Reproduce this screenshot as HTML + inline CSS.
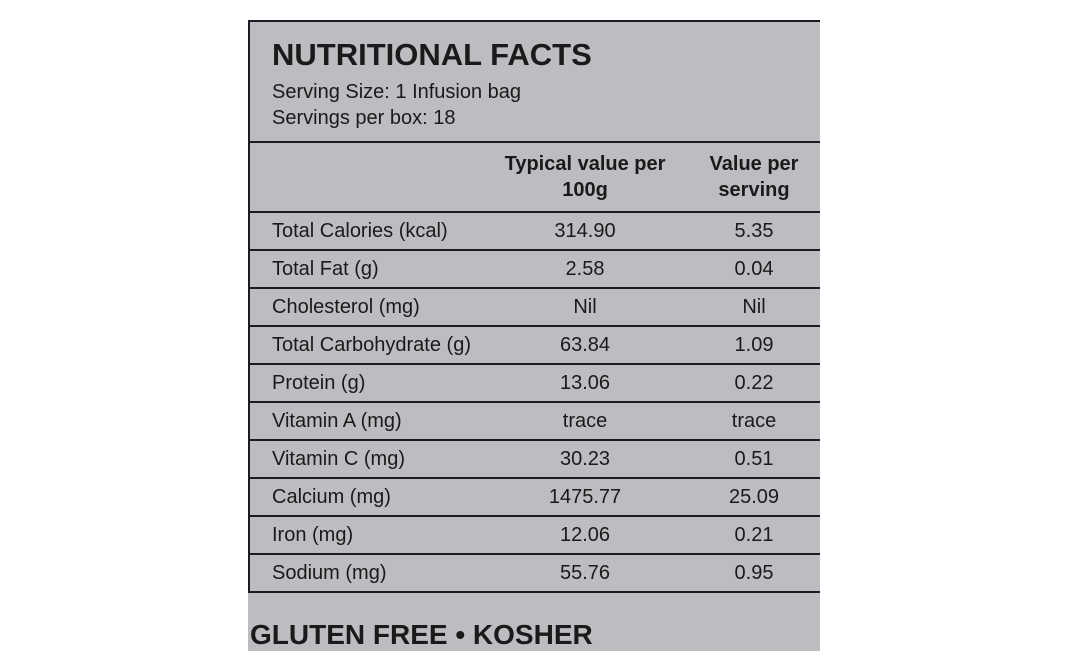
<!DOCTYPE html>
<html><head><style>
body{margin:0;width:1068px;height:671px;background:#fff;position:relative;overflow:hidden;font-family:"Liberation Sans",sans-serif;color:#1a1a1a}
#p{position:absolute;left:248px;top:20px;width:572px;height:631px;background:#bdbdc1}
.l{position:absolute;left:248px;width:572px;height:2px;background:#1b1b22}
.t{position:absolute;font-size:20px;line-height:24px;white-space:nowrap}
.c1{position:absolute;left:520px;width:130px;text-align:center;font-size:20px}
.c2{position:absolute;left:689px;width:130px;text-align:center;font-size:20px}
</style></head><body>
<div id="p"></div>
<div class="l" style="top:20px"></div>
<div style="position:absolute;left:248px;top:20px;width:2px;height:573px;background:#1b1b22"></div>
<div class="t" style="left:272px;top:38px;font-size:31px;font-weight:bold;line-height:34px;letter-spacing:0px">NUTRITIONAL FACTS</div>
<div class="t" style="left:272px;top:80px">Serving Size: 1 Infusion bag</div>
<div class="t" style="left:272px;top:106px">Servings per box: 18</div>
<div class="l" style="top:141px"></div>
<div class="t" style="left:490px;top:151px;width:190px;text-align:center;font-weight:bold;line-height:26px;white-space:normal">Typical value per 100g</div>
<div class="t" style="left:684px;top:151px;width:140px;text-align:center;font-weight:bold;line-height:26px;white-space:normal">Value per serving</div>
<div class="l" style="top:211px"></div>
<div id="rows"></div>
<script>
var r=[["Total Calories (kcal)","314.90","5.35"],["Total Fat (g)","2.58","0.04"],["Cholesterol (mg)","Nil","Nil"],["Total Carbohydrate (g)","63.84","1.09"],["Protein (g)","13.06","0.22"],["Vitamin A (mg)","trace","trace"],["Vitamin C (mg)","30.23","0.51"],["Calcium (mg)","1475.77","25.09"],["Iron (mg)","12.06","0.21"],["Sodium (mg)","55.76","0.95"]];
var h="";r.forEach(function(x,i){var y=219+i*38;h+='<div class="t" style="left:272px;top:'+y+'px">'+x[0]+'</div><div class="t c1" style="top:'+y+'px">'+x[1]+'</div><div class="t c2" style="top:'+y+'px">'+x[2]+'</div><div class="l" style="top:'+(249+i*38)+'px"></div>';});
document.getElementById("rows").innerHTML=h;
</script>
<div class="t" style="left:250px;top:620px;font-size:28px;font-weight:bold;line-height:30px;letter-spacing:0px">GLUTEN FREE • KOSHER</div>
</body></html>
